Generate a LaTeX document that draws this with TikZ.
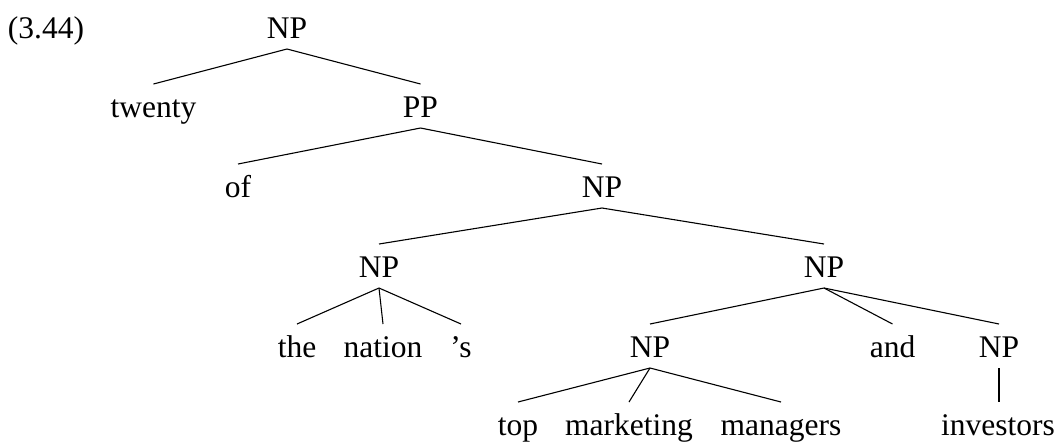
\documentclass[tikz,border=0pt]{standalone}
\usepackage{fontspec}
\setmainfont{Liberation Serif}
\begin{document}
\begin{tikzpicture}[x=0.5pt,y=-0.5pt,
  lbl/.style={inner sep=0pt, outer sep=0pt, anchor=base, text height=16.5pt, text depth=5.5pt, font=\fontsize{15.75}{18}\selectfont},
  edge/.style={line width=0.55pt}]
\useasboundingbox (0,0) rectangle (1056,441);
% labels
\node[lbl, anchor=base west] (ex) at (8,38) {(3.44)};
\node[lbl] (np0) at (287,38) {NP};
\node[lbl] (twenty) at (153.5,117) {twenty};
\node[lbl] (pp) at (420.5,117) {PP};
\node[lbl] (of) at (238,197) {of};
\node[lbl] (np1) at (602,197) {NP};
\node[lbl] (np2) at (379,277) {NP};
\node[lbl] (np3) at (824,277) {NP};
\node[lbl] (the) at (297,357) {the};
\node[lbl] (nation) at (383,357) {nation};
\node[lbl] (poss) at (461,357) {'s};
\node[lbl] (np4) at (650,357) {NP};
\node[lbl] (and) at (892.5,357) {and};
\node[lbl] (np5) at (999,357) {NP};
\node[lbl] (top) at (518,435) {top};
\node[lbl] (marketing) at (629,435) {marketing};
\node[lbl] (managers) at (781,435) {managers};
\node[lbl] (investors) at (998,435) {investors};
% edges
\draw[edge] (np0.south) -- (twenty.north);
\draw[edge] (np0.south) -- (pp.north);
\draw[edge] (pp.south) -- (of.north);
\draw[edge] (pp.south) -- (np1.north);
\draw[edge] (np1.south) -- (np2.north);
\draw[edge] (np1.south) -- (np3.north);
\draw[edge] (np2.south) -- (the.north);
\draw[edge] (np2.south) -- (nation.north);
\draw[edge] (np2.south) -- (poss.north);
\draw[edge] (np3.south) -- (np4.north);
\draw[edge] (np3.south) -- (and.north);
\draw[edge] (np3.south) -- (np5.north);
\draw[edge] (np4.south) -- (top.north);
\draw[edge] (np4.south) -- (marketing.north);
\draw[edge] (np4.south) -- (managers.north);
\draw[edge] (np5.south) -- (np5.south |- investors.north);
\end{tikzpicture}
\end{document}
